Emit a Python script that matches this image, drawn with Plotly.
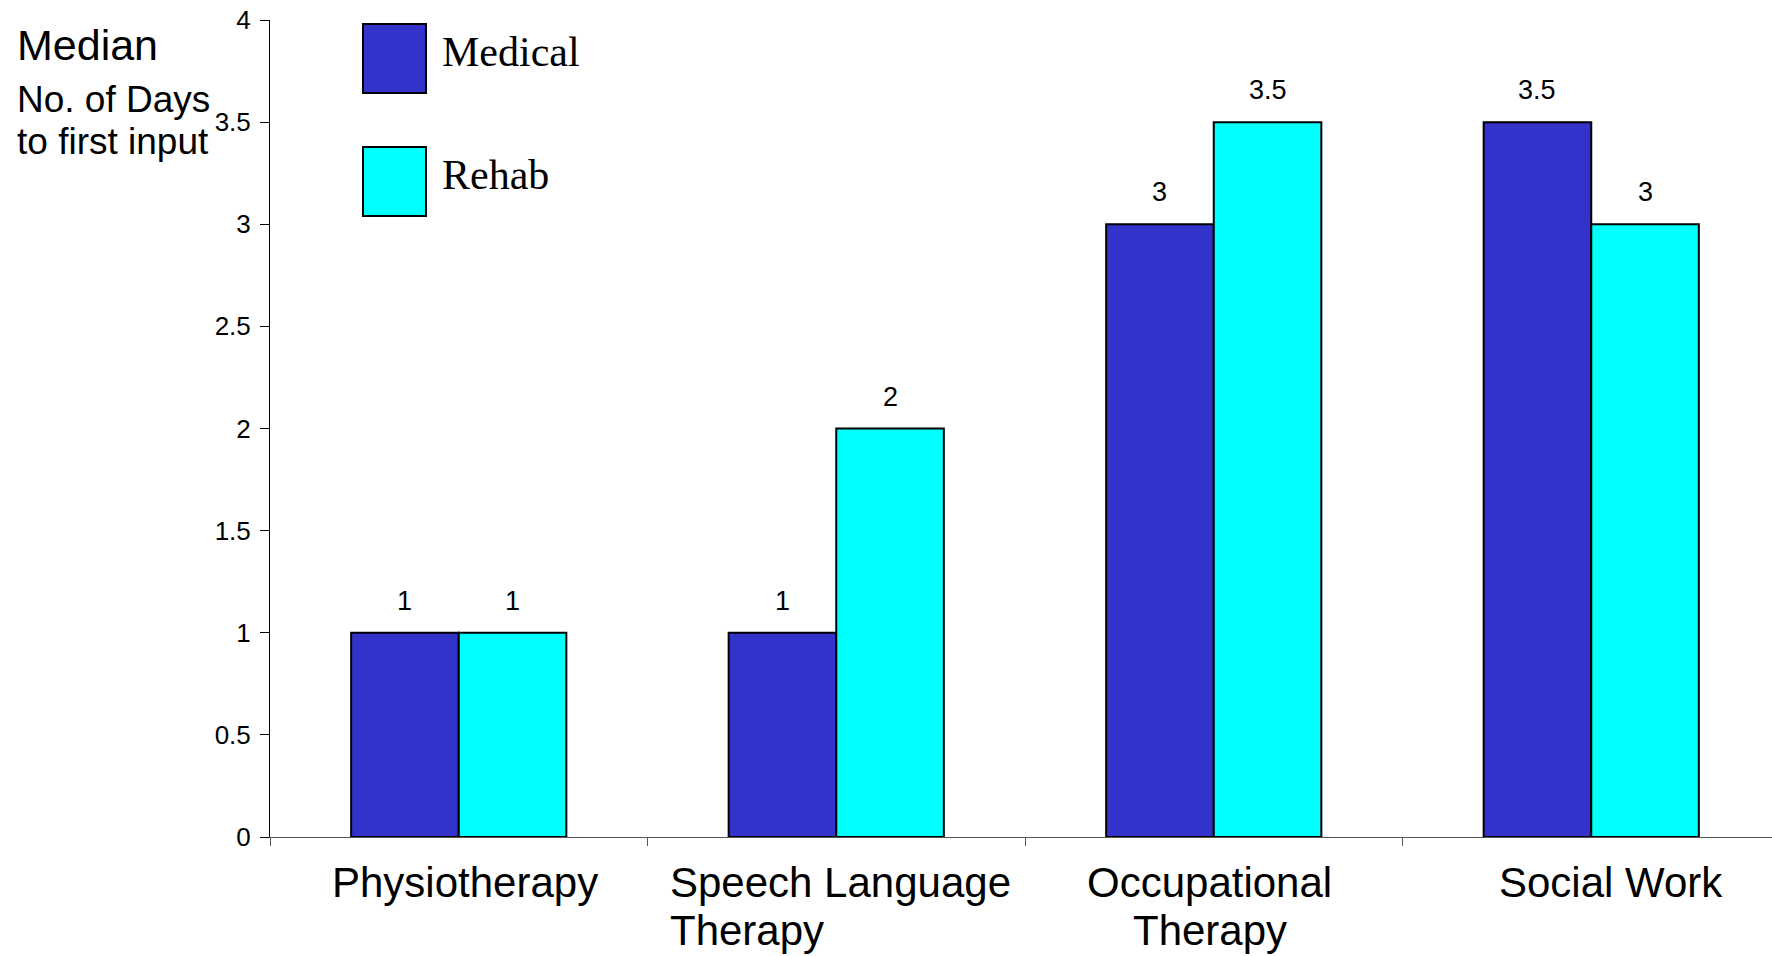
import plotly.graph_objects as go

# --- data ---
categories = ["Physiotherapy", "Speech Language<br>Therapy", "Occupational<br>Therapy", "Social Work"]
medical = [1, 1, 3, 3.5]
rehab = [1, 2, 3.5, 3]
y_ticks = [0, 0.5, 1, 1.5, 2, 2.5, 3, 3.5, 4]
y_title = ["Median", "No. of Days", "to first input"]

COLORS = {"medical": "#3333cc", "rehab": "#00ffff", "edge": "#000000", "text": "#000000"}

W, H = 1772, 956
L, T, B = 270, 20, 119          # plot area margins (px)
PLOT_W, PLOT_H = W - L, H - T - B
BAND = 377.5                    # px per category on x

def px_x(x):  # pixel -> paper
    return (x - L) / PLOT_W

def px_y(y):
    return (H - B - y) / PLOT_H

fig = go.Figure()
fig.add_trace(go.Bar(x=categories, y=medical, name="Medical",
                     marker=dict(color=COLORS["medical"], line=dict(color=COLORS["edge"], width=2))))
fig.add_trace(go.Bar(x=categories, y=rehab, name="Rehab",
                     marker=dict(color=COLORS["rehab"], line=dict(color=COLORS["edge"], width=2))))

# value labels above each bar
for series, shift in ((medical, -54), (rehab, 54)):
    for cat, v in zip(categories, series):
        fig.add_annotation(x=cat, y=v, text=f"{v:g}", showarrow=False, xshift=shift, yshift=32,
                           yanchor="middle", font=dict(size=27, color=COLORS["text"]))

# category labels, one annotation per line so the line spacing matches
# (xanchor, xshift) per category; Speech Language is left aligned in the original
label_pos = [("center", 6), ("left", -168), ("center", -4), ("center", 20)]
for cat, (anchor, s) in zip(categories, label_pos):
    for i, line in enumerate(cat.split("<br>")):
        fig.add_annotation(x=cat, y=0, yref="paper", text=line, showarrow=False,
                           xanchor=anchor, yanchor="top", xshift=s, yshift=-20 - 48 * i,
                           font=dict(size=42, color=COLORS["text"]))

# y axis title
for txt, yc, size in zip(y_title, (45, 99, 141), (43, 37, 37)):
    fig.add_annotation(xref="paper", yref="paper", x=px_x(15), y=px_y(yc), text=txt,
                       showarrow=False, xanchor="left", yanchor="middle", font=dict(size=size))

# legend drawn as boxes + serif text
for name, col, top in (("Medical", COLORS["medical"], 24), ("Rehab", COLORS["rehab"], 147)):
    fig.add_shape(type="rect", xref="paper", yref="paper", x0=px_x(363), x1=px_x(426),
                  y0=px_y(top + 69), y1=px_y(top), fillcolor=col, line=dict(color="#000", width=2))
    fig.add_annotation(xref="paper", yref="paper", x=px_x(440), y=px_y(top + 28), text=name,
                       showarrow=False, xanchor="left", yanchor="middle",
                       font=dict(family="Liberation Serif, Times New Roman, serif", size=42))

fig.update_layout(
    width=W, height=H, autosize=False,
    barmode="group", bargap=0.43, bargroupgap=0,
    showlegend=False,
    margin=dict(l=L, r=0, t=T, b=B, pad=0),
    paper_bgcolor="white", plot_bgcolor="white",
    font=dict(family="Liberation Sans, Arial, sans-serif", color=COLORS["text"]),
    xaxis=dict(range=[-0.5, -0.5 + PLOT_W / BAND], showticklabels=False, tickson="boundaries",
               ticks="outside", ticklen=8, tickcolor="#555", showline=True, linecolor="#555",
               linewidth=1, showgrid=False, zeroline=False, fixedrange=True),
    yaxis=dict(range=[0, 4], tickvals=y_ticks, ticktext=[f"{t:g}" for t in y_ticks],
               ticks="outside", ticklen=9, tickcolor="#000", showline=True, linecolor="#000",
               linewidth=1, showgrid=False, zeroline=False, tickfont=dict(size=26),
               ticklabelstandoff=4, fixedrange=True),
)

fig.write_html("out.html", config={"displayModeBar": False},
               post_script="document.body.style.margin='0';")
